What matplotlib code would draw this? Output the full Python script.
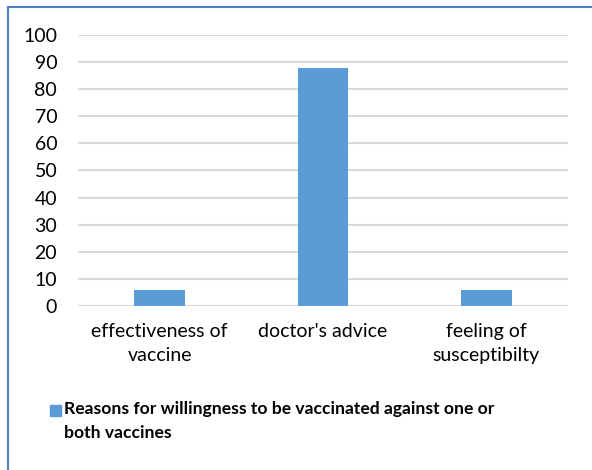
import matplotlib.pyplot as plt
from matplotlib.patches import Rectangle
from matplotlib.lines import Line2D

categories = ["effectiveness of\nvaccine", "doctor's advice", "feeling of\nsusceptibilty"]
values = [6, 88, 6]
yticks = [0, 10, 20, 30, 40, 50, 60, 70, 80, 90, 100]
series_name = "Reasons for willingness to be vaccinated against one or\nboth vaccines"

plt.rcParams["font.family"] = ["Lato", "DejaVu Sans"]

fig = plt.figure(figsize=(5.92, 4.70), dpi=100)
ax = fig.add_axes([0.1318, 0.349, 0.8277, 0.5765])

bar_color = "#5B9BD5"
x = range(len(categories))
ax.bar(x, values, width=0.31, color=bar_color, zorder=3)

ax.set_xlim(-0.5, len(categories) - 0.5)
ax.set_ylim(0, 100)
ax.set_yticks(yticks)
ax.set_xticks(list(x))
ax.set_xticklabels(categories, fontsize=14, linespacing=1.55)
ax.tick_params(axis="y", labelsize=14, length=0, pad=15)
ax.tick_params(axis="x", length=0, pad=12)
ax.grid(axis="y", color="#D9D9D9", linewidth=1.5, zorder=0)
for s in ax.spines.values():
    s.set_visible(False)
ax.axhline(0, color="#D9D9D9", linewidth=1.5, zorder=2)

# legend
fig.patches.append(Rectangle((50 / 592, 1 - 416 / 470), 11 / 592, 11 / 470,
                             transform=fig.transFigure, color=bar_color))
fig.text(64 / 592, 1 - 401 / 470, series_name, fontsize=12.6, fontweight="bold",
         va="top", ha="left", linespacing=1.6)

# chart frame (left and top edges)
border = "#4F81BD"
fig.add_artist(Line2D([8 / 592, 8 / 592], [0, 1 - 7 / 470], transform=fig.transFigure,
                      color=border, linewidth=1.5))
fig.add_artist(Line2D([8 / 592, 1], [1 - 7 / 470, 1 - 7 / 470], transform=fig.transFigure,
                      color=border, linewidth=1.5))

fig.savefig("out.png", dpi=100)
